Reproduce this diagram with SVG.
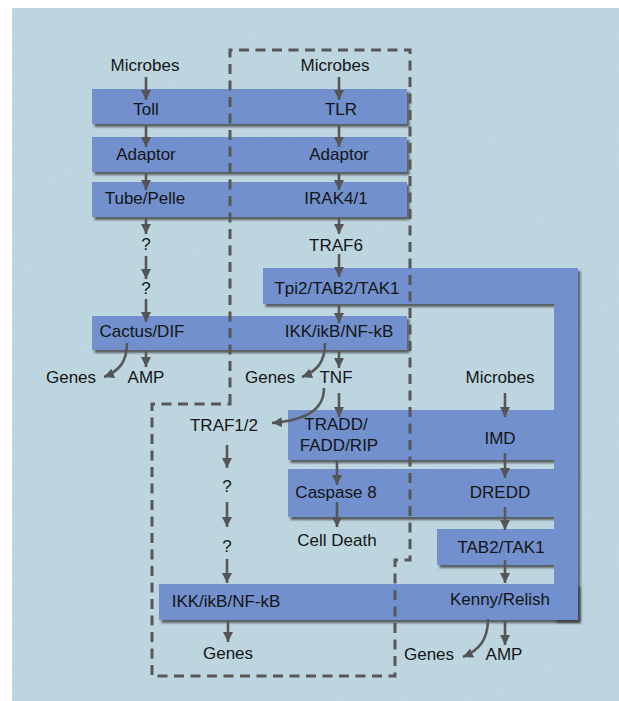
<svg xmlns="http://www.w3.org/2000/svg" width="619" height="701" viewBox="0 0 619 701">
<defs>
<filter id="sh" x="-5%" y="-20%" width="115%" height="150%">
<feDropShadow dx="2.5" dy="3" stdDeviation="1.3" flood-color="#3a3a3a" flood-opacity="0.75"/>
</filter>
<filter id="noise" x="0" y="0" width="100%" height="100%">
<feTurbulence type="fractalNoise" baseFrequency="0.9" numOctaves="2" seed="3" result="n"/>
<feColorMatrix in="n" type="matrix" values="0 0 0 0 0.72  0 0 0 0 0.82  0 0 0 0 0.86  0 0 0 0.35 0" result="c"/>
<feComposite in="c" in2="SourceGraphic" operator="in"/>
</filter>
<marker id="ah" markerUnits="userSpaceOnUse" markerWidth="11" markerHeight="11" refX="10" refY="5" orient="auto">
<path d="M0,0 L10,5 L0,10 Z" fill="#555"/>
</marker>
</defs>
<style>
.bg{fill:#b9d3dd}
.box{fill:#7190cd;filter:url(#sh)}
text{font-family:"Liberation Sans",Arial,Helvetica,sans-serif;font-size:17px;fill:#151515;text-anchor:middle}
.ar{stroke:#575757;stroke-width:2.6;fill:none;marker-end:url(#ah)}
.dash{stroke:#575757;stroke-width:3;fill:none;stroke-dasharray:10 6.5}
</style>
<rect class="bg" x="12" y="8" width="607" height="693"/>
<rect x="12" y="8" width="607" height="693" fill="#fff" filter="url(#noise)" opacity="0.6"/>

<g id="band-toll"><rect class="box" x="92" y="89" width="315" height="35"/><text x="146" y="115">Toll</text><text x="341" y="115">TLR</text></g>
<g id="band-adaptor"><rect class="box" x="92" y="137" width="315" height="35"/><text x="146" y="160">Adaptor</text><text x="339" y="160">Adaptor</text></g>
<g id="band-tube"><rect class="box" x="92" y="182" width="315" height="35"/><text x="145" y="204">Tube/Pelle</text><text x="336" y="204">IRAK4/1</text></g>
<g id="band-cactus"><rect class="box" x="92" y="316" width="315" height="34"/><text x="142" y="337">Cactus/DIF</text><text x="339" y="337">IKK/ikB/NF-kB</text></g>
<g id="band-tak1"><path class="box" d="M263,268 H578 V620 H554 V304 H263 Z"/><text x="337" y="294">Tpi2/TAB2/TAK1</text></g>
<g id="band-imd"><rect class="box" x="288" y="410" width="266" height="50"/><text x="336" y="430">TRADD/</text><text x="339" y="451">FADD/RIP</text><text x="500" y="444">IMD</text></g>
<g id="band-caspase"><rect class="box" x="288" y="469" width="266" height="48"/><text x="336" y="498">Caspase 8</text><text x="500" y="498">DREDD</text></g>
<g id="band-tab2"><rect class="box" x="437" y="529" width="117" height="36"/><text x="501" y="553">TAB2/TAK1</text></g>
<g id="band-kenny"><rect class="box" x="159" y="584" width="419" height="36"/><path d="M554,580 H578 V620 H554 Z" fill="#7190cd"/><text x="226" y="607">IKK/ikB/NF-kB</text><text x="500" y="605">Kenny/Relish</text></g>
<rect x="554" y="268" width="24" height="352" fill="#7190cd"/>

<g id="microbes-1"><text x="145" y="71">Microbes</text></g>
<g id="microbes-2"><text x="335" y="71">Microbes</text></g>
<g id="microbes-3"><text x="500" y="383">Microbes</text></g>
<g id="traf6"><text x="336" y="251">TRAF6</text></g>
<g id="q1"><text x="146" y="250">?</text></g>
<g id="q2"><text x="146" y="294">?</text></g>
<g id="genes-1"><text x="71" y="383">Genes</text></g>
<g id="amp-1"><text x="146" y="383">AMP</text></g>
<g id="genes-2"><text x="270" y="383">Genes</text></g>
<g id="tnf"><text x="336" y="383">TNF</text></g>
<g id="traf12"><text x="224" y="431">TRAF1/2</text></g>
<g id="q3"><text x="227" y="492">?</text></g>
<g id="q4"><text x="227" y="552">?</text></g>
<g id="cell-death"><text x="337" y="546">Cell Death</text></g>
<g id="genes-3"><text x="228" y="659">Genes</text></g>
<g id="genes-4"><text x="429" y="660">Genes</text></g>
<g id="amp-2"><text x="504" y="660">AMP</text></g>

<g id="connectors">
<path class="ar" d="M146,77 V100"/>
<path class="ar" d="M146,125 V147"/>
<path class="ar" d="M146,173 V190"/>
<path class="ar" d="M146,218 V234"/>
<path class="ar" d="M146,256 V279"/>
<path class="ar" d="M146,299 V322"/>
<path class="ar" d="M146,351 V367"/>
<path class="ar" d="M127,343 C127,362 119,371 104,377"/>
<path class="ar" d="M339,77 V100"/>
<path class="ar" d="M339,125 V147"/>
<path class="ar" d="M339,173 V190"/>
<path class="ar" d="M339,218 V234"/>
<path class="ar" d="M339,254 V277"/>
<path class="ar" d="M339,305 V323"/>
<path class="ar" d="M339,351 V368"/>
<path class="ar" d="M325,343 C325,362 317,371 302,377"/>
<path class="ar" d="M339,393 V417"/>
<path class="ar" d="M324,388 C324,410 306,420 272,423"/>
<path class="ar" d="M337,460 V485"/>
<path class="ar" d="M337,502 V527"/>
<path class="ar" d="M227,445 V468"/>
<path class="ar" d="M227,502 V527"/>
<path class="ar" d="M227,559 V583"/>
<path class="ar" d="M228,620 V642"/>
<path class="ar" d="M505,393 V417"/>
<path class="ar" d="M505,453 V478"/>
<path class="ar" d="M505,507 V530"/>
<path class="ar" d="M505,560 V583"/>
<path class="ar" d="M505,621 V645"/>
<path class="ar" d="M488,619 C488,640 479,650 463,657"/>
<path class="dash" d="M230,404 V50 H410 V560 H395 V676 H152 V404 Z"/>
</g>
</svg>
